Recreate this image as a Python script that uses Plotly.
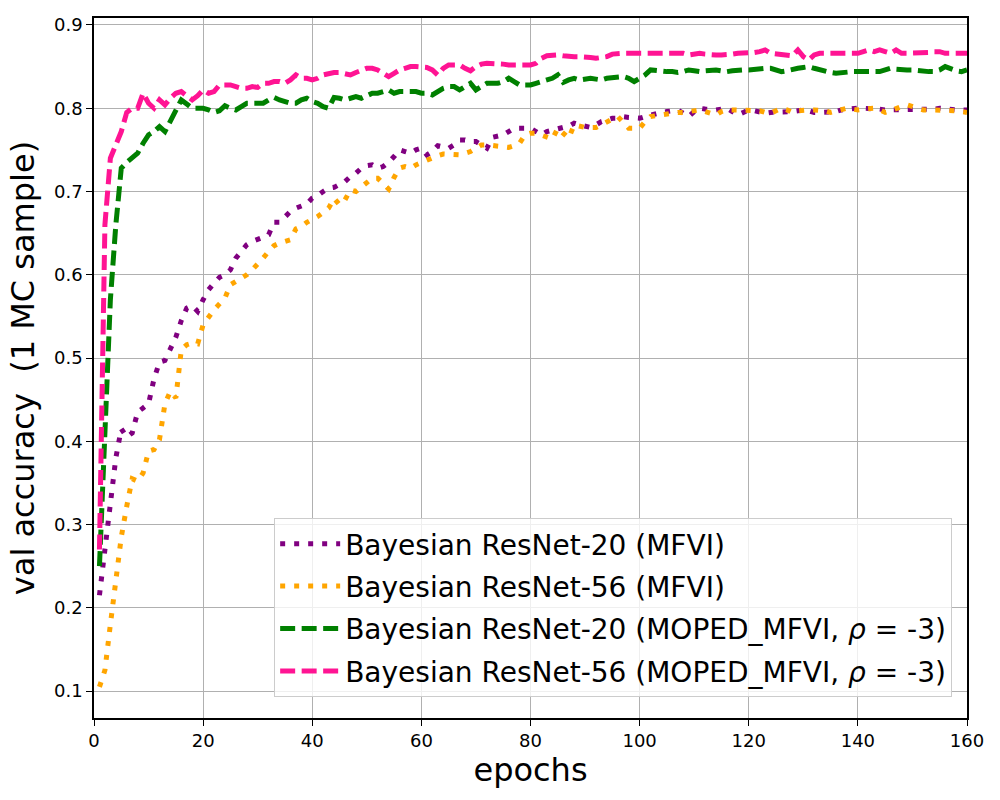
import plotly.graph_objects as go

epochs = list(range(1, 161))

resnet20_mfvi = [
    0.215, 0.27, 0.315, 0.38, 0.415, 0.405, 0.41, 0.435, 0.44, 0.445,
    0.475, 0.495, 0.497, 0.51, 0.525, 0.545, 0.56, 0.563, 0.556, 0.57,
    0.582, 0.59, 0.597, 0.60, 0.606, 0.62, 0.628, 0.636, 0.64, 0.642,
    0.645, 0.648, 0.663, 0.663, 0.67, 0.676, 0.68, 0.683, 0.685, 0.692,
    0.695, 0.70, 0.704, 0.705, 0.708, 0.712, 0.718, 0.722, 0.728, 0.731,
    0.732, 0.728, 0.73, 0.735, 0.742, 0.75, 0.748, 0.746, 0.75, 0.752,
    0.744, 0.748, 0.755, 0.754, 0.752, 0.756, 0.762, 0.762, 0.76, 0.76,
    0.756, 0.752, 0.765, 0.766, 0.768, 0.772, 0.776, 0.776, 0.776, 0.776,
    0.772, 0.768, 0.772, 0.774, 0.776, 0.777, 0.778, 0.782, 0.78, 0.778,
    0.777, 0.78, 0.784, 0.786, 0.788, 0.788, 0.79, 0.789, 0.788, 0.788,
    0.79, 0.792, 0.793, 0.795, 0.796, 0.797, 0.798, 0.794, 0.79, 0.796,
    0.80, 0.799, 0.798, 0.798, 0.799, 0.80, 0.796, 0.792, 0.795, 0.798,
    0.797, 0.795, 0.794, 0.795, 0.795, 0.795, 0.795, 0.796, 0.797, 0.798,
    0.797, 0.795, 0.795, 0.795, 0.795, 0.796, 0.798, 0.799, 0.80, 0.80,
    0.80, 0.80, 0.80, 0.799, 0.798, 0.798, 0.798, 0.798, 0.798, 0.798,
    0.798, 0.798, 0.798, 0.799, 0.80, 0.799, 0.798, 0.798, 0.798, 0.798,
]

resnet56_mfvi = [
    0.105, 0.125, 0.18, 0.232, 0.285, 0.322, 0.355, 0.352, 0.362, 0.388,
    0.39, 0.402, 0.445, 0.46, 0.452, 0.51, 0.516, 0.518, 0.517, 0.54,
    0.55, 0.558, 0.565, 0.572, 0.588, 0.592, 0.597, 0.60, 0.606, 0.612,
    0.62, 0.628, 0.635, 0.638, 0.64, 0.642, 0.655, 0.658, 0.663, 0.666,
    0.67, 0.675, 0.68, 0.692, 0.684, 0.69, 0.702, 0.70, 0.706, 0.712,
    0.716, 0.716, 0.71, 0.703, 0.717, 0.728, 0.73, 0.728, 0.732, 0.735,
    0.738, 0.741, 0.743, 0.745, 0.745, 0.744, 0.744, 0.746, 0.748, 0.752,
    0.756, 0.756, 0.755, 0.755, 0.754, 0.753, 0.755, 0.758, 0.768, 0.77,
    0.77, 0.768, 0.765, 0.763, 0.776, 0.77, 0.764, 0.78, 0.778, 0.777,
    0.777, 0.777, 0.78, 0.784, 0.787, 0.79, 0.784, 0.776, 0.776, 0.776,
    0.784, 0.79, 0.791, 0.792, 0.794, 0.795, 0.795, 0.795, 0.796, 0.797,
    0.798, 0.796, 0.794, 0.792, 0.796, 0.798, 0.798, 0.798, 0.798, 0.798,
    0.798, 0.797, 0.795, 0.794, 0.797, 0.80, 0.798, 0.795, 0.797, 0.798,
    0.798, 0.798, 0.798, 0.797, 0.795, 0.797, 0.799, 0.80, 0.799, 0.798,
    0.799, 0.80, 0.80, 0.798, 0.795, 0.797, 0.80, 0.802, 0.804, 0.802,
    0.799, 0.798, 0.798, 0.798, 0.798, 0.798, 0.798, 0.797, 0.796, 0.795,
]

resnet20_moped = [
    0.25, 0.40, 0.57, 0.66, 0.728, 0.735, 0.74, 0.746, 0.758, 0.768,
    0.772, 0.778, 0.772, 0.785, 0.80, 0.81, 0.805, 0.80, 0.80, 0.80,
    0.798, 0.795, 0.797, 0.803, 0.80, 0.798, 0.802, 0.806, 0.806, 0.806,
    0.806, 0.81, 0.813, 0.81, 0.808, 0.806, 0.806, 0.81, 0.812, 0.808,
    0.806, 0.802, 0.80, 0.813, 0.812, 0.81, 0.812, 0.814, 0.812, 0.815,
    0.818, 0.818, 0.82, 0.822, 0.818, 0.82, 0.82, 0.82, 0.82, 0.818,
    0.818, 0.816, 0.82, 0.824, 0.826, 0.826, 0.822, 0.826, 0.83, 0.822,
    0.826, 0.83, 0.83, 0.83, 0.832, 0.836, 0.832, 0.828, 0.828, 0.828,
    0.83, 0.832, 0.834, 0.836, 0.84, 0.831, 0.834, 0.836, 0.834, 0.835,
    0.836, 0.835, 0.834, 0.836, 0.837, 0.838, 0.838, 0.836, 0.832, 0.836,
    0.84, 0.846, 0.845, 0.844, 0.844, 0.844, 0.843, 0.844, 0.846, 0.845,
    0.844, 0.845, 0.846, 0.846, 0.845, 0.844, 0.845, 0.846, 0.846, 0.846,
    0.847, 0.848, 0.848, 0.848, 0.846, 0.844, 0.845, 0.847, 0.848, 0.849,
    0.85, 0.848, 0.846, 0.844, 0.843, 0.842, 0.843, 0.844, 0.844, 0.844,
    0.844, 0.844, 0.844, 0.844, 0.846, 0.848, 0.847, 0.846, 0.846, 0.846,
    0.845, 0.844, 0.844, 0.844, 0.846, 0.85, 0.847, 0.845, 0.844, 0.846,
]

resnet56_moped = [
    0.27, 0.66, 0.74, 0.755, 0.772, 0.795, 0.80, 0.80, 0.818, 0.806,
    0.80, 0.81, 0.804, 0.812, 0.818, 0.82, 0.815, 0.81, 0.815, 0.822,
    0.818, 0.82, 0.828, 0.828, 0.828, 0.826, 0.824, 0.824, 0.826, 0.825,
    0.83, 0.83, 0.832, 0.832, 0.83, 0.834, 0.84, 0.836, 0.836, 0.834,
    0.836, 0.84, 0.842, 0.843, 0.843, 0.842, 0.84, 0.843, 0.845, 0.848,
    0.848, 0.846, 0.842, 0.838, 0.842, 0.846, 0.848, 0.85, 0.85, 0.85,
    0.849, 0.846, 0.84, 0.848, 0.852, 0.852, 0.852, 0.848, 0.845, 0.85,
    0.853, 0.854, 0.854, 0.854, 0.853, 0.852, 0.852, 0.852, 0.852, 0.852,
    0.854, 0.86, 0.863, 0.864, 0.864, 0.863, 0.862, 0.862, 0.862, 0.862,
    0.861, 0.86, 0.861, 0.862, 0.865, 0.866, 0.866, 0.866, 0.866, 0.866,
    0.866, 0.866, 0.866, 0.866, 0.866, 0.866, 0.866, 0.866, 0.864, 0.865,
    0.866, 0.865, 0.864, 0.864, 0.864, 0.864, 0.865, 0.866, 0.866, 0.866,
    0.867, 0.868, 0.87, 0.866, 0.865, 0.864, 0.864, 0.863, 0.87, 0.862,
    0.858, 0.864, 0.866, 0.866, 0.866, 0.866, 0.866, 0.866, 0.866, 0.866,
    0.868, 0.87, 0.868, 0.87, 0.868, 0.866, 0.87, 0.866, 0.866, 0.866,
    0.866, 0.866, 0.867, 0.868, 0.868, 0.866, 0.866, 0.866, 0.866, 0.866,
]

series_names = [
    "Bayesian ResNet-20 (MFVI)",
    "Bayesian ResNet-56 (MFVI)",
    "Bayesian ResNet-20 (MOPED_MFVI, <i>ρ</i> = -3)",
    "Bayesian ResNet-56 (MOPED_MFVI, <i>ρ</i> = -3)",
]
series_values = [resnet20_mfvi, resnet56_mfvi, resnet20_moped, resnet56_moped]
series_colors = ["#800080", "#FFA500", "#008000", "#FF1493"]
series_dash = ["5px,9px", "5px,9px", "15px,6.5px", "15px,6.5px"]

x_ticks = [0, 20, 40, 60, 80, 100, 120, 140, 160]
y_ticks = [0.1, 0.2, 0.3, 0.4, 0.5, 0.6, 0.7, 0.8, 0.9]

fig = go.Figure()
for i, (name, vals, col, dash) in enumerate(zip(series_names, series_values, series_colors, series_dash)):
    fig.add_trace(go.Scatter(
        x=epochs, y=vals, mode="lines", name=name,
        line=dict(color=col, width=5, dash=dash),
        legendgroup=f"g{i}",
    ))

FONT = "DejaVu Sans, Arial, sans-serif"
fig.update_layout(
    width=1000, height=800,
    margin=dict(l=94, r=33, t=18, b=82),
    paper_bgcolor="white", plot_bgcolor="white",
    font=dict(family=FONT, color="black", size=18),
    showlegend=True,
    legend=dict(
        x=0.983, y=0.03, xanchor="right", yanchor="bottom",
        bgcolor="rgba(255,255,255,0.8)", bordercolor="#cccccc", borderwidth=1,
        font=dict(family=FONT, size=28, color="black"),
        tracegroupgap=3,
        traceorder="grouped",
        itemwidth=60,
    ),
    xaxis=dict(
        range=[0, 160], tickvals=x_ticks, ticktext=[str(v) for v in x_ticks],
        showgrid=True, gridcolor="#b0b0b0", gridwidth=1,
        showline=True, linecolor="black", linewidth=1.5, mirror=True,
        ticks="outside", ticklen=6, tickcolor="black", zeroline=False,
        tickfont=dict(size=18),
        title=dict(text="epochs", font=dict(size=32), standoff=8),
    ),
    yaxis=dict(
        range=[0.0676, 0.9084], tickvals=y_ticks, ticktext=[f"{v:.1f}" for v in y_ticks],
        showgrid=True, gridcolor="#b0b0b0", gridwidth=1,
        showline=True, linecolor="black", linewidth=1.5, mirror=True,
        ticks="outside", ticklen=6, tickcolor="black", zeroline=False,
        tickfont=dict(size=18),
        title=dict(text="val accuracy \u00a0(1 MC sample)", font=dict(size=32), standoff=10),
    ),
)

fig.write_html("out.html")
